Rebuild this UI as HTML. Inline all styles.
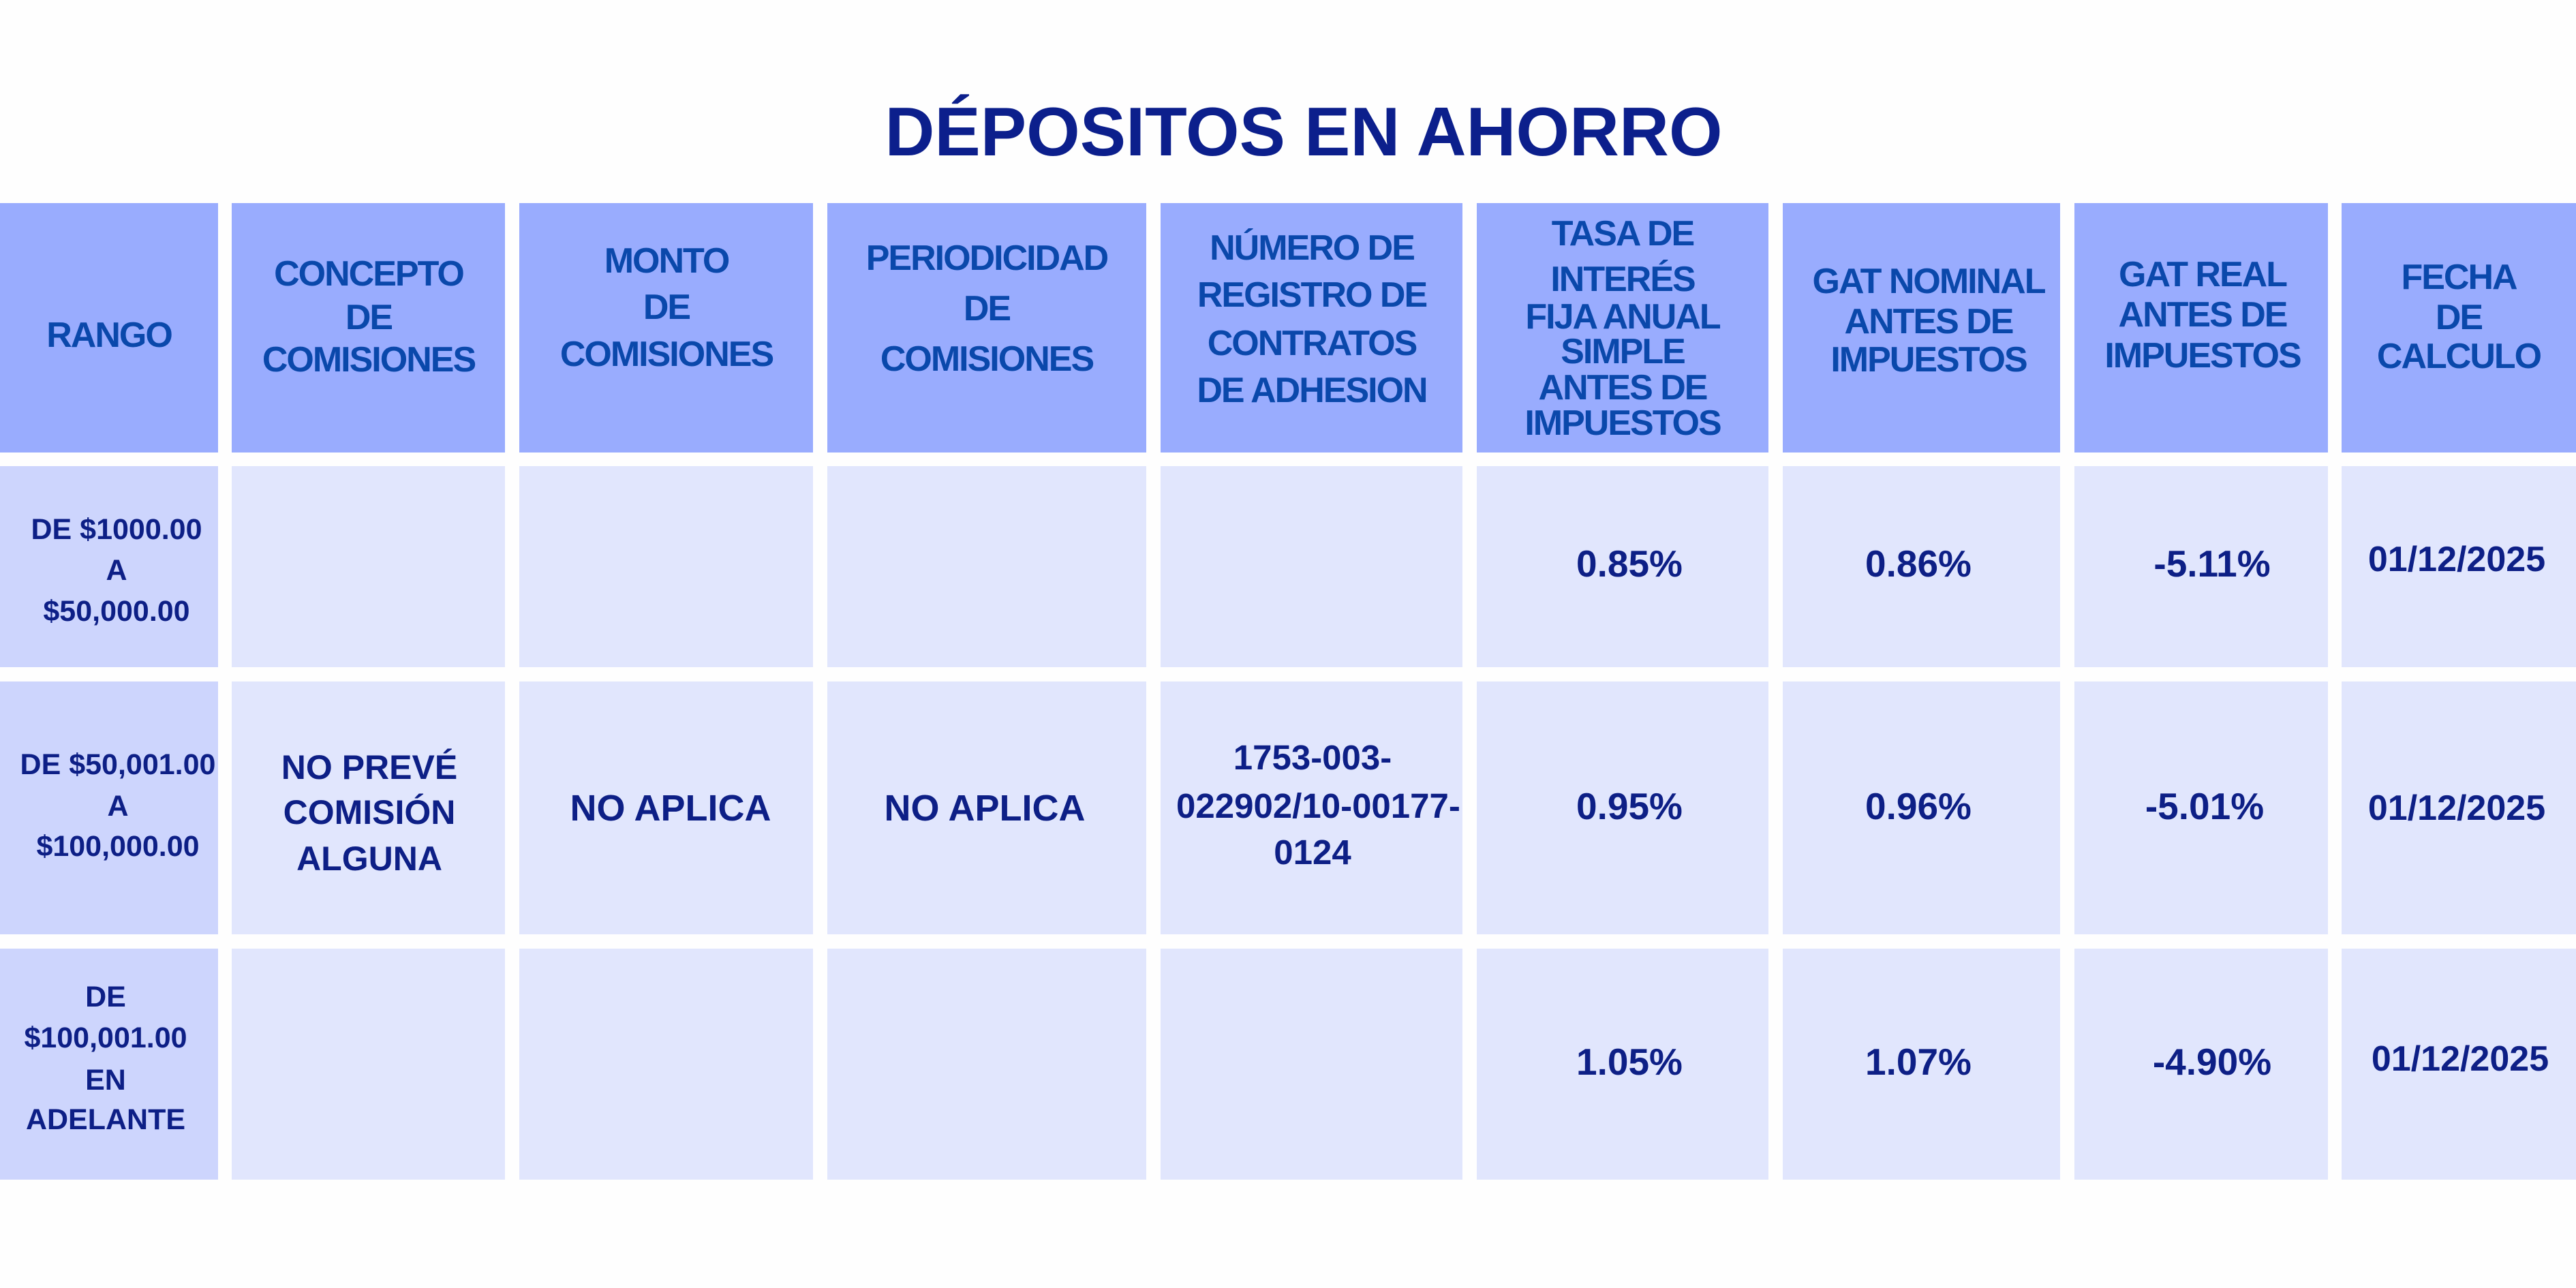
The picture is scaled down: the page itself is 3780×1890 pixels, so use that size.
<!DOCTYPE html>
<html>
<head>
<meta charset="utf-8">
<style>
html,body{margin:0;padding:0;}
body{width:3780px;height:1890px;position:relative;background:#fefefe;overflow:hidden;font-family:"Liberation Sans",Arial,sans-serif;}
.c{position:absolute;}
.h{background:#99acfe;}
.d{background:#e1e6fd;}
.f{background:#cdd5fd;}
.t{position:absolute;height:70px;line-height:70px;text-align:center;white-space:nowrap;font-weight:bold;}
.hd{color:#0a48ab;font-size:52px;letter-spacing:-2px;}
.dt{color:#0d1f86;}
.title{position:absolute;left:1200px;width:1426px;top:144px;height:101px;line-height:101px;text-align:center;white-space:nowrap;font-weight:bold;font-size:101px;color:#0c1f8c;}
</style>
</head>
<body>
<div class="title">DÉPOSITOS EN AHORRO</div>

<!-- header cells -->
<div class="c h" style="left:0;top:298px;width:320px;height:366px"></div>
<div class="c h" style="left:340px;top:298px;width:401px;height:366px"></div>
<div class="c h" style="left:762px;top:298px;width:431px;height:366px"></div>
<div class="c h" style="left:1214px;top:298px;width:468px;height:366px"></div>
<div class="c h" style="left:1703px;top:298px;width:443px;height:366px"></div>
<div class="c h" style="left:2167px;top:298px;width:428px;height:366px"></div>
<div class="c h" style="left:2616px;top:298px;width:407px;height:366px"></div>
<div class="c h" style="left:3044px;top:298px;width:372px;height:366px"></div>
<div class="c h" style="left:3436px;top:298px;width:344px;height:366px"></div>

<!-- data rows -->
<div class="c f" style="left:0;top:684px;width:320px;height:295px"></div>
<div class="c d" style="left:340px;top:684px;width:401px;height:295px"></div>
<div class="c d" style="left:762px;top:684px;width:431px;height:295px"></div>
<div class="c d" style="left:1214px;top:684px;width:468px;height:295px"></div>
<div class="c d" style="left:1703px;top:684px;width:443px;height:295px"></div>
<div class="c d" style="left:2167px;top:684px;width:428px;height:295px"></div>
<div class="c d" style="left:2616px;top:684px;width:407px;height:295px"></div>
<div class="c d" style="left:3044px;top:684px;width:372px;height:295px"></div>
<div class="c d" style="left:3436px;top:684px;width:344px;height:295px"></div>

<div class="c f" style="left:0;top:1000px;width:320px;height:371px"></div>
<div class="c d" style="left:340px;top:1000px;width:401px;height:371px"></div>
<div class="c d" style="left:762px;top:1000px;width:431px;height:371px"></div>
<div class="c d" style="left:1214px;top:1000px;width:468px;height:371px"></div>
<div class="c d" style="left:1703px;top:1000px;width:443px;height:371px"></div>
<div class="c d" style="left:2167px;top:1000px;width:428px;height:371px"></div>
<div class="c d" style="left:2616px;top:1000px;width:407px;height:371px"></div>
<div class="c d" style="left:3044px;top:1000px;width:372px;height:371px"></div>
<div class="c d" style="left:3436px;top:1000px;width:344px;height:371px"></div>

<div class="c f" style="left:0;top:1392px;width:320px;height:339px"></div>
<div class="c d" style="left:340px;top:1392px;width:401px;height:339px"></div>
<div class="c d" style="left:762px;top:1392px;width:431px;height:339px"></div>
<div class="c d" style="left:1214px;top:1392px;width:468px;height:339px"></div>
<div class="c d" style="left:1703px;top:1392px;width:443px;height:339px"></div>
<div class="c d" style="left:2167px;top:1392px;width:428px;height:339px"></div>
<div class="c d" style="left:2616px;top:1392px;width:407px;height:339px"></div>
<div class="c d" style="left:3044px;top:1392px;width:372px;height:339px"></div>
<div class="c d" style="left:3436px;top:1392px;width:344px;height:339px"></div>

<!-- header text -->
<div class="t hd" style="left:-40px;width:400px;top:457px">RANGO</div>

<div class="t hd" style="left:341px;width:400px;top:367px">CONCEPTO</div>
<div class="t hd" style="left:341px;width:400px;top:431px">DE</div>
<div class="t hd" style="left:341px;width:400px;top:493px">COMISIONES</div>

<div class="t hd" style="left:778px;width:400px;top:348px">MONTO</div>
<div class="t hd" style="left:778px;width:400px;top:416px">DE</div>
<div class="t hd" style="left:778px;width:400px;top:485px">COMISIONES</div>

<div class="t hd" style="left:1248px;width:400px;top:344px">PERIODICIDAD</div>
<div class="t hd" style="left:1248px;width:400px;top:418px">DE</div>
<div class="t hd" style="left:1248px;width:400px;top:492px">COMISIONES</div>

<div class="t hd" style="left:1725px;width:400px;top:329px">NÚMERO DE</div>
<div class="t hd" style="left:1725px;width:400px;top:398px">REGISTRO DE</div>
<div class="t hd" style="left:1725px;width:400px;top:469px">CONTRATOS</div>
<div class="t hd" style="left:1725px;width:400px;top:538px">DE ADHESION</div>

<div class="t hd" style="left:2181px;width:400px;top:308px">TASA DE</div>
<div class="t hd" style="left:2181px;width:400px;top:375px">INTERÉS</div>
<div class="t hd" style="left:2181px;width:400px;top:430px">FIJA ANUAL</div>
<div class="t hd" style="left:2181px;width:400px;top:481px">SIMPLE</div>
<div class="t hd" style="left:2181px;width:400px;top:534px">ANTES DE</div>
<div class="t hd" style="left:2181px;width:400px;top:586px">IMPUESTOS</div>

<div class="t hd" style="left:2630px;width:400px;top:378px">GAT NOMINAL</div>
<div class="t hd" style="left:2630px;width:400px;top:437px">ANTES DE</div>
<div class="t hd" style="left:2630px;width:400px;top:493px">IMPUESTOS</div>

<div class="t hd" style="left:3032px;width:400px;top:368px">GAT REAL</div>
<div class="t hd" style="left:3032px;width:400px;top:427px">ANTES DE</div>
<div class="t hd" style="left:3032px;width:400px;top:487px">IMPUESTOS</div>

<div class="t hd" style="left:3408px;width:400px;top:372px">FECHA</div>
<div class="t hd" style="left:3408px;width:400px;top:431px">DE</div>
<div class="t hd" style="left:3408px;width:400px;top:488px">CALCULO</div>

<!-- column 1 data -->
<div class="t dt" style="font-size:43px;left:-29px;width:400px;top:742px">DE $1000.00</div>
<div class="t dt" style="font-size:43px;left:-29px;width:400px;top:802px">A</div>
<div class="t dt" style="font-size:43px;left:-29px;width:400px;top:862px">$50,000.00</div>

<div class="t dt" style="font-size:43px;left:-27px;width:400px;top:1087px">DE $50,001.00</div>
<div class="t dt" style="font-size:43px;left:-27px;width:400px;top:1148px">A</div>
<div class="t dt" style="font-size:43px;left:-27px;width:400px;top:1207px">$100,000.00</div>

<div class="t dt" style="font-size:43px;left:-45px;width:400px;top:1428px">DE</div>
<div class="t dt" style="font-size:43px;left:-45px;width:400px;top:1488px">$100,001.00</div>
<div class="t dt" style="font-size:43px;left:-45px;width:400px;top:1550px">EN</div>
<div class="t dt" style="font-size:43px;left:-45px;width:400px;top:1608px">ADELANTE</div>

<!-- column 2-5 row 2 -->
<div class="t dt" style="font-size:50px;left:342px;width:400px;top:1091px">NO PREVÉ</div>
<div class="t dt" style="font-size:50px;left:342px;width:400px;top:1157px">COMISIÓN</div>
<div class="t dt" style="font-size:50px;left:342px;width:400px;top:1225px">ALGUNA</div>

<div class="t dt" style="font-size:54px;left:784px;width:400px;top:1151px">NO APLICA</div>
<div class="t dt" style="font-size:54px;left:1245px;width:400px;top:1151px">NO APLICA</div>

<div class="t dt" style="font-size:51px;left:1726px;width:400px;top:1077px">1753-003-</div>
<div class="t dt" style="font-size:51px;left:1726px;width:400px;top:1148px">022902/10-00177-</div>
<div class="t dt" style="font-size:51px;left:1726px;width:400px;top:1216px">0124</div>

<!-- tasa -->
<div class="t dt" style="font-size:55px;left:2191px;width:400px;top:792px">0.85%</div>
<div class="t dt" style="font-size:55px;left:2191px;width:400px;top:1148px">0.95%</div>
<div class="t dt" style="font-size:55px;left:2191px;width:400px;top:1523px">1.05%</div>

<!-- gat nominal -->
<div class="t dt" style="font-size:55px;left:2615px;width:400px;top:792px">0.86%</div>
<div class="t dt" style="font-size:55px;left:2615px;width:400px;top:1148px">0.96%</div>
<div class="t dt" style="font-size:55px;left:2615px;width:400px;top:1523px">1.07%</div>

<!-- gat real -->
<div class="t dt" style="font-size:55px;left:3046px;width:400px;top:792px">-5.11%</div>
<div class="t dt" style="font-size:55px;left:3035px;width:400px;top:1148px">-5.01%</div>
<div class="t dt" style="font-size:55px;left:3046px;width:400px;top:1523px">-4.90%</div>

<!-- fecha -->
<div class="t dt" style="font-size:52px;left:3405px;width:400px;top:786px">01/12/2025</div>
<div class="t dt" style="font-size:52px;left:3405px;width:400px;top:1151px">01/12/2025</div>
<div class="t dt" style="font-size:52px;left:3410px;width:400px;top:1519px">01/12/2025</div>

</body>
</html>
